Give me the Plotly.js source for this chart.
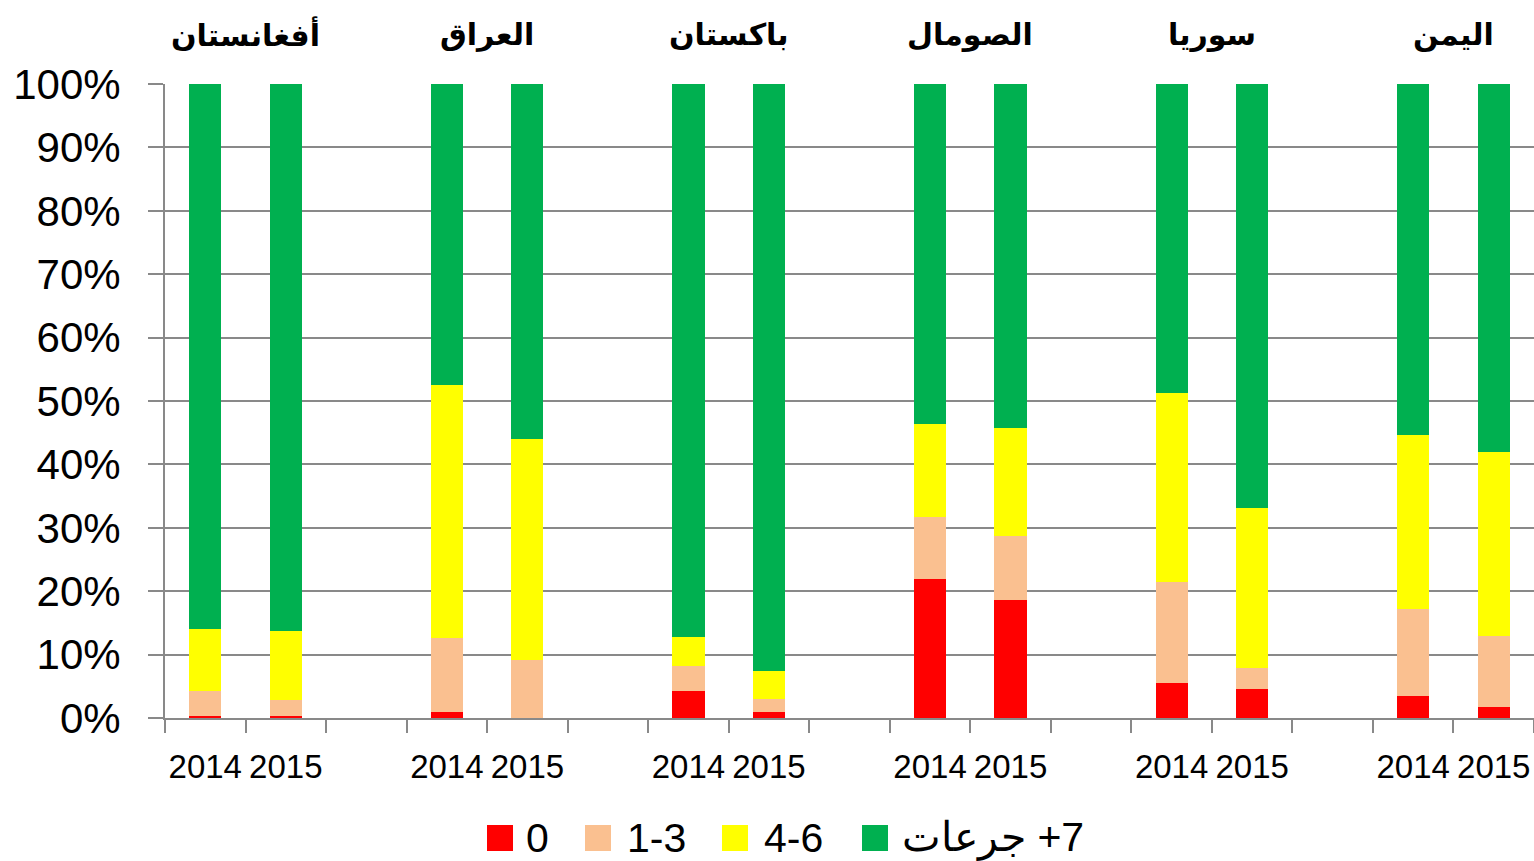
<!DOCTYPE html>
<html>
<head>
<meta charset="utf-8">
<script src="https://cdn.plot.ly/plotly-3.0.1.min.js"></script>
<style>
  html, body { margin: 0; padding: 0; background: #ffffff; }
  #chart { width: 1534px; height: 861px; }
</style>
</head>
<body>
<div id="chart"></div>
<script>
// ---- data ----
const countries = ["أفغانستان", "العراق", "باكستان", "الصومال", "سوريا", "اليمن"];
const years = ["2014", "2015"];
const seriesNames = ["0", "1-3", "4-6", "جرعات\u200E +7"];
// values (% of children) in order: country x year
const dose0  = [0.3, 0.3,  0.9, 0.0,  4.2, 1.0,  22.0, 18.6,  5.6, 4.5,  3.5, 1.7];
const dose13 = [3.9, 2.5,  11.7, 9.2, 4.0, 2.0,  9.7, 10.1,   15.8, 3.4, 13.7, 11.2];
const dose46 = [9.9, 11.0, 39.9, 34.8, 4.6, 4.4, 14.7, 17.0,  29.8, 25.3, 27.4, 29.0];
const dose7  = [85.9, 86.2, 47.5, 56.0, 87.2, 92.6, 53.6, 54.3, 48.8, 66.8, 55.4, 58.1];
const yTicks = [0, 10, 20, 30, 40, 50, 60, 70, 80, 90, 100];

// ---- styles ----
const seriesColors = ["#FF0000", "#FAC090", "#FFFF00", "#00B050"];
const gray = "#898989";
const latin = "Liberation Sans, Arial, sans-serif";
const arabic = "DejaVu Sans, sans-serif";

// ---- build categories (year slots plus a gap slot between countries) ----
const cats = [], catText = [], barCats = [];
countries.forEach((c, i) => {
  years.forEach(y => { const k = c + " " + y; cats.push(k); catText.push(y); barCats.push(k); });
  if (i < countries.length - 1) { cats.push(c + " gap"); catText.push(""); }
});

const allSeries = [dose0, dose13, dose46, dose7];
const traces = allSeries.map((vals, s) => ({
  type: "bar",
  name: seriesNames[s],
  x: barCats,
  y: vals,
  marker: { color: seriesColors[s], line: { width: 0 } },
  showlegend: false,
  hoverinfo: "x+y+name"
}));

// plot-area geometry (pixels) used for paper conversions of the custom legend
const M = { l: 165, r: 0, t: 84, b: 143 };
const W = 1534, H = 861;
const pw = W - M.l - M.r, ph = H - M.t - M.b;
const px2x = px => (px - M.l) / pw;
const py2y = py => (H - M.b - py) / ph;

// country titles centred over each pair of bars
const annotations = countries.map((c, i) => ({
  xref: "x", yref: "paper",
  x: cats.indexOf(c + " 2014") + 0.5,
  y: py2y(34),
  text: "<b>" + c + "</b>",
  showarrow: false,
  xanchor: "center", yanchor: "middle",
  font: { family: arabic, size: 30, color: "#000" }
}));

// custom legend (large square keys like the original)
const legendSquares = [500, 598, 735, 875];
const legendTexts = [524, 625, 762, 900];
const legY = py2y(838);
const shapes = [];
seriesNames.forEach((n, s) => {
  shapes.push({
    type: "rect", xref: "paper", yref: "paper",
    xsizemode: "pixel", ysizemode: "pixel",
    xanchor: px2x(legendSquares[s]), yanchor: legY,
    x0: -13, x1: 13, y0: -13, y1: 13,
    fillcolor: seriesColors[s], line: { width: 0 }
  });
  annotations.push({
    xref: "paper", yref: "paper",
    x: px2x(legendTexts[s]), y: legY,
    text: n, showarrow: false,
    xanchor: "left", yanchor: "middle",
    font: { family: latin, size: 41, color: "#000" }
  });
});

const layout = {
  width: W, height: H,
  margin: M,
  paper_bgcolor: "#ffffff",
  plot_bgcolor: "#ffffff",
  barmode: "stack",
  bargap: 0.6,
  showlegend: false,
  xaxis: {
    type: "category",
    categoryorder: "array",
    categoryarray: cats,
    tickmode: "array",
    tickvals: cats,
    ticktext: catText,
    tickson: "boundaries",
    tickangle: 0,
    range: [-0.5, cats.length - 0.5],
    showgrid: false,
    showline: true, linecolor: gray, linewidth: 2,
    ticks: "outside", ticklen: 13, tickwidth: 2, tickcolor: gray,
    ticklabelstandoff: 18,
    tickfont: { family: latin, size: 33, color: "#000" },
    fixedrange: true
  },
  yaxis: {
    range: [0, 100],
    tickmode: "array",
    tickvals: yTicks,
    ticktext: yTicks.map(v => v + "%"),
    showgrid: true, gridcolor: gray, gridwidth: 2,
    showline: true, linecolor: gray, linewidth: 2,
    zeroline: false,
    ticks: "outside", ticklen: 15, tickwidth: 2, tickcolor: gray,
    ticklabelstandoff: 19,
    tickfont: { family: latin, size: 42, color: "#000" },
    fixedrange: true
  },
  annotations: annotations,
  shapes: shapes
};

Plotly.newPlot("chart", traces, layout, { displayModeBar: false, staticPlot: true });
</script>
</body>
</html>
